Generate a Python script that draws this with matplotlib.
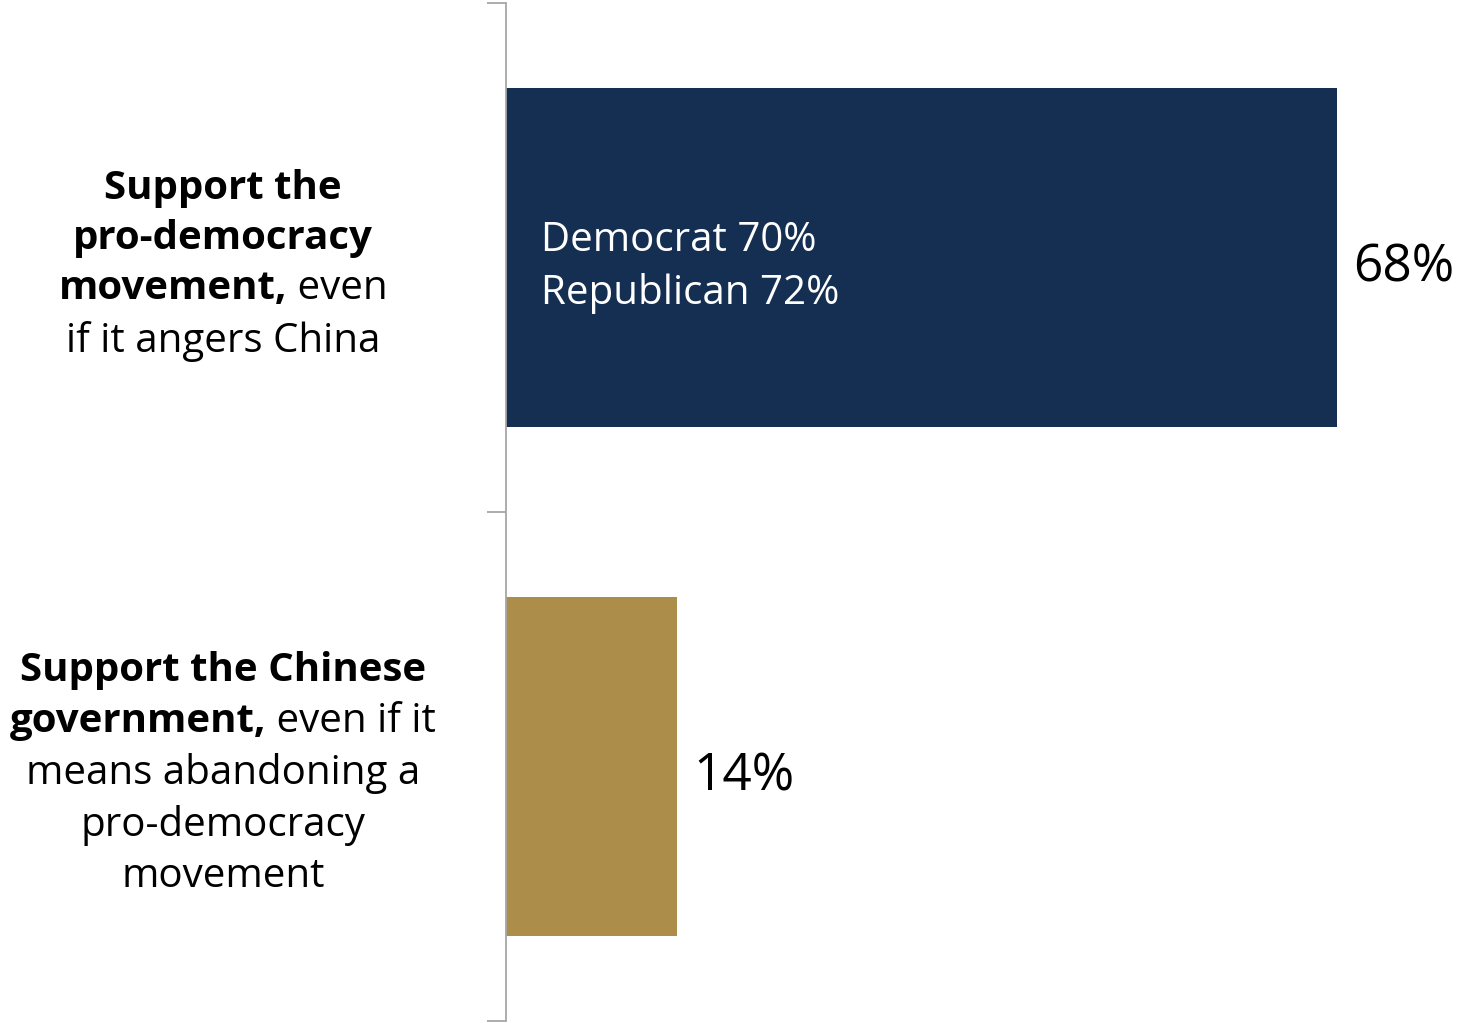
import matplotlib
matplotlib.use("Agg")
import matplotlib.pyplot as plt
from matplotlib.offsetbox import TextArea, HPacker, VPacker, AnnotationBbox

# data
values = [68, 14]
colors = ["#152f52", "#ac8d4a"]
value_labels = ["68%", "14%"]
inner_lines = ["Democrat 70%", "Republican 72%"]
# category labels: each line is a list of (text, bold)
cat_labels = [
    [[("Support the", True)],
     [("pro-democracy", True)],
     [("movement,", True), (" even", False)],
     [("if it angers China", False)]],
    [[("Support the Chinese", True)],
     [("government,", True), (" even if it", False)],
     [("means abandoning a", False)],
     [("pro-democracy", False)],
     [("movement", False)]],
]

plt.rcParams["font.family"] = ["Open Sans", "DejaVu Sans"]
FS = 29

fig = plt.figure(figsize=(14.6, 10.23), dpi=100)
ax = fig.add_axes([506 / 1460, 2 / 1023, 954 / 1460, 1018 / 1023])

ypos = [1, 0]
bh = 0.666
ax.barh(ypos, values, height=bh, color=colors, zorder=2)
ax.set_xlim(0, 954 / 12.22)
ax.set_ylim(-0.5, 1.5)

for sp in ["top", "right", "bottom"]:
    ax.spines[sp].set_visible(False)
ax.spines["left"].set_color("#a6a6a6")
ax.spines["left"].set_linewidth(1.3)
ax.set_xticks([])
ax.set_yticks([-0.5, 0.5, 1.5])
ax.set_yticklabels([])
ax.tick_params(axis="y", length=14, width=1.3, color="#a6a6a6")

for y, v, lab in zip(ypos, values, value_labels):
    ax.text(v + 1.3, y - 0.02, lab, va="center", ha="left", fontsize=37, color="black")

ax.text(2.9, 1 - 0.02, "\n".join(inner_lines), va="center", ha="left",
        fontsize=FS, color="white", linespacing=1.39)

for y, lines in zip(ypos, cat_labels):
    rows = []
    for line in lines:
        parts = [TextArea(t, textprops=dict(fontsize=FS, fontweight="bold" if b else "normal",
                                            color="black"))
                 for t, b in line]
        rows.append(HPacker(children=parts, align="baseline", pad=0, sep=0))
    box = VPacker(children=rows, align="center", pad=0, sep=8)
    ab = AnnotationBbox(box, (223 / 1460, y - 0.015), xycoords=("figure fraction", "data"),
                        frameon=False, box_alignment=(0.5, 0.5), annotation_clip=False)
    ax.add_artist(ab)

fig.savefig("out.png", dpi=100)
